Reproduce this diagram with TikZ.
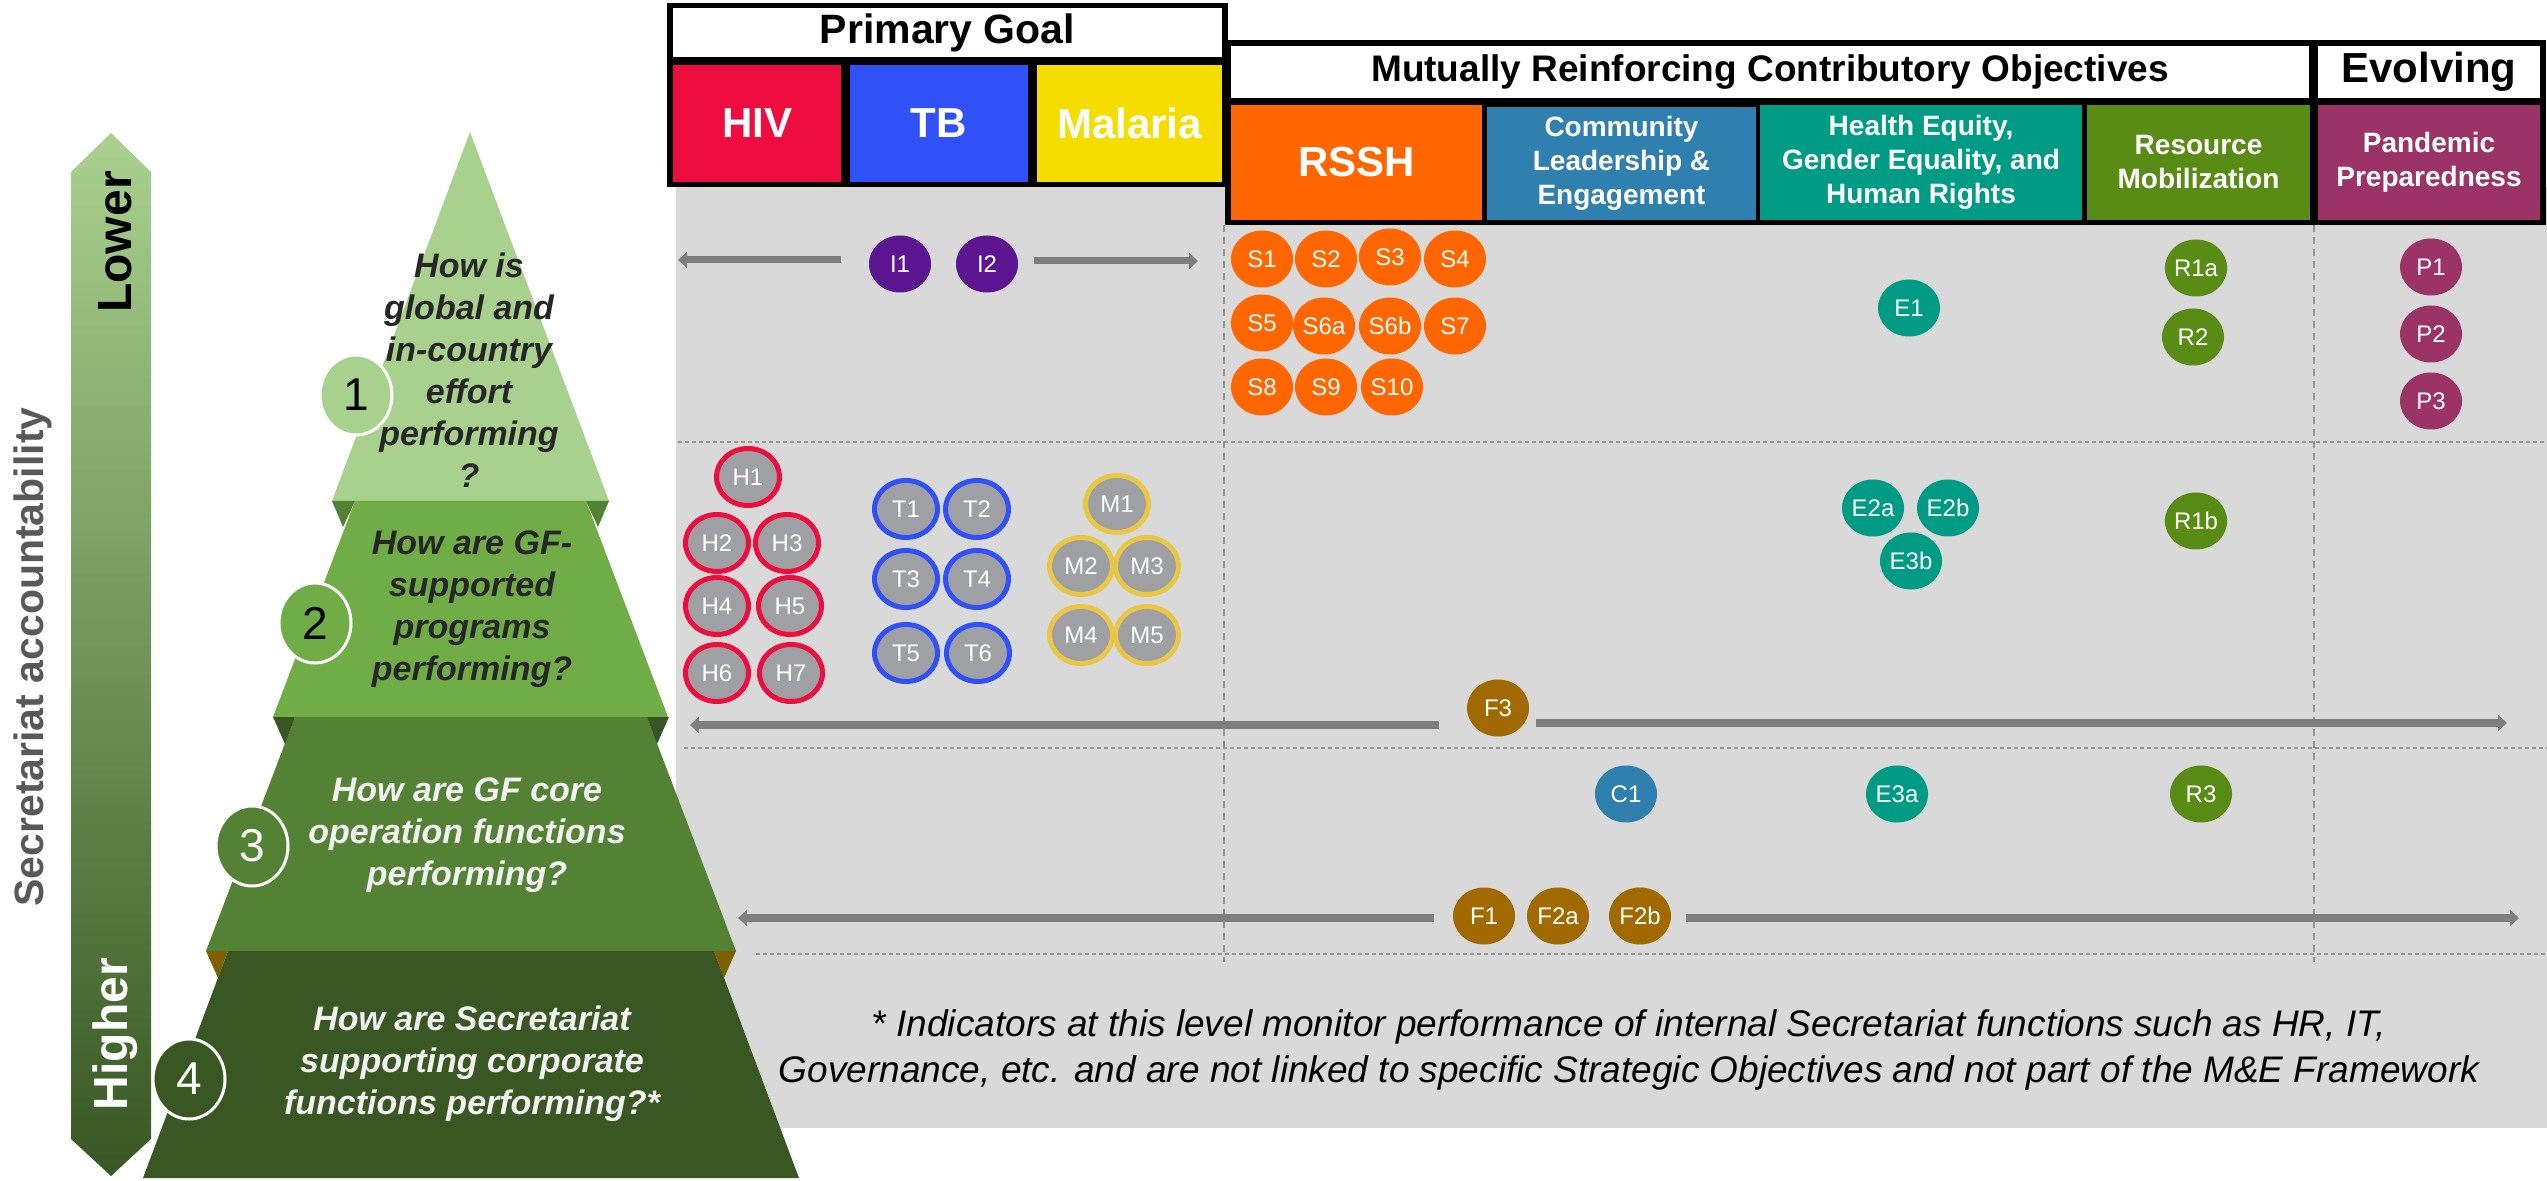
\documentclass[tikz,border=0pt]{standalone}
\usepackage{fontspec}
\setmainfont{Liberation Sans}
\usetikzlibrary{shapes.geometric,arrows.meta}
\definecolor{hivc}{HTML}{EE0D3F}
\definecolor{tbc}{HTML}{3050F8}
\definecolor{malc}{HTML}{F5DD00}
\definecolor{rsshc}{HTML}{FF6600}
\definecolor{commc}{HTML}{2F80AE}
\definecolor{eqc}{HTML}{009B85}
\definecolor{resc}{HTML}{588C14}
\definecolor{panc}{HTML}{9B3366}
\definecolor{purc}{HTML}{5B1590}
\definecolor{fc}{HTML}{A06A00}
\definecolor{bgc}{HTML}{D9D9D9}
\definecolor{circg}{HTML}{9EA0A3}
\definecolor{malb}{HTML}{EAC646}
\definecolor{arrc}{HTML}{7F7F7F}
\definecolor{dashc}{HTML}{959595}
\definecolor{lone}{HTML}{A9D18E}
\definecolor{ltwo}{HTML}{70AD47}
\definecolor{lthree}{HTML}{548235}
\definecolor{lfour}{HTML}{385723}
\definecolor{notchtwo}{HTML}{548235}
\definecolor{notchthree}{HTML}{375623}
\definecolor{notchfour}{HTML}{7F6000}
\definecolor{darktxt}{HTML}{262626}
\definecolor{lighttxt}{HTML}{F2F2F2}
\definecolor{sidetxt}{HTML}{595959}
\tikzset{
 hdr/.style={rectangle, inner sep=0pt, fill=white, text=black, font=\bfseries\fontsize{20.5}{24}\selectfont},
 cat/.style={rectangle, inner sep=0pt, text=white, align=center, font=\bfseries\fontsize{14}{17}\selectfont},
 bigcat/.style={rectangle, inner sep=0pt, text=white, font=\bfseries\fontsize{21}{25}\selectfont},
 ind/.style={ellipse, inner sep=0pt, minimum width=31pt, minimum height=28.5pt, text=white, font=\fontsize{12}{14}\selectfont},
 ring/.style={ind, fill=circg, line width=2.5pt, minimum width=31.5pt},
 garrow/.style={draw=arrc, line width=3.5pt, -{Triangle[length=4.5pt,width=8pt]}},
 garrowb/.style={garrow, line width=4pt},
 hdot/.style={draw=dashc, line width=1pt, dash pattern=on 2pt off 1.5pt},
 vdash/.style={draw=dashc, line width=0.8pt, dash pattern=on 3.5pt off 2.5pt},
 pyr/.style={align=center, inner sep=0pt, font=\bfseries\itshape\fontsize{17}{21}\selectfont},
 numc/.style={ellipse, minimum width=36pt, minimum height=40pt, inner sep=0pt, draw=white, line width=1.5pt, font=\fontsize{23}{26}\selectfont},
}
\begin{document}
\begin{tikzpicture}[x=0.5pt,y=-0.5pt]
\useasboundingbox (0,0) rectangle (2547,1181);
\fill[white] (0,0) rectangle (2547,1181);
% gray body
\fill[bgc] (676,187) rectangle (2547,1128);
% dashed grid
\draw[hdot] (678,442) -- (2547,442);
\draw[hdot] (684,748) -- (2547,748);
\draw[hdot] (756,954) -- (2547,954);
\draw[vdash] (1224,225) -- (1224,962);
\draw[vdash] (2314,225) -- (2314,962);
% arrows
\coordinate (aIls) at (841,260); \coordinate (aIle) at (678,260);
\coordinate (aIrs) at (1034,261); \coordinate (aIre) at (1198,261);
\coordinate (aFls) at (1439,725); \coordinate (aFle) at (690,725);
\coordinate (aFrs) at (1536,723); \coordinate (aFre) at (2507,723);
\coordinate (aGls) at (1434,918); \coordinate (aGle) at (738,918);
\coordinate (aGrs) at (1686,918); \coordinate (aGre) at (2519,918);
\draw[garrow] (aIls) -- (aIle);
\draw[garrow] (aIrs) -- (aIre);
\draw[garrowb] (aFls) -- (aFle);
\draw[garrowb] (aFrs) -- (aFre);
\draw[garrowb] (aGls) -- (aGle);
\draw[garrowb] (aGrs) -- (aGre);
% indicator circles
\node[ind, fill=purc] (I1) at (900,264) {I1};
\node[ind, fill=purc] (I2) at (987,264) {I2};
\node[ind, fill=rsshc] (S1) at (1262,259) {S1};
\node[ind, fill=rsshc] (S2) at (1326,259) {S2};
\node[ind, fill=rsshc] (S3) at (1390,257) {S3};
\node[ind, fill=rsshc] (S4) at (1455,259) {S4};
\node[ind, fill=rsshc] (S5) at (1262,323) {S5};
\node[ind, fill=rsshc] (S6a) at (1324,326) {S6a};
\node[ind, fill=rsshc] (S6b) at (1390,326) {S6b};
\node[ind, fill=rsshc] (S7) at (1455,326) {S7};
\node[ind, fill=rsshc] (S8) at (1262,387) {S8};
\node[ind, fill=rsshc] (S9) at (1326,387) {S9};
\node[ind, fill=rsshc] (S10) at (1392,387) {S10};
\node[ind, fill=eqc] (E1) at (1909,308) {E1};
\node[ind, fill=resc] (R1a) at (2196,268) {R1a};
\node[ind, fill=resc] (R2) at (2193,337) {R2};
\node[ind, fill=panc] (P1) at (2431,267) {P1};
\node[ind, fill=panc] (P2) at (2431,334) {P2};
\node[ind, fill=panc] (P3) at (2431,401) {P3};
\node[ind, fill=eqc] (E2a) at (1873,508) {E2a};
\node[ind, fill=eqc] (E2b) at (1948,508) {E2b};
\node[ind, fill=eqc] (E3b) at (1911,561) {E3b};
\node[ind, fill=resc] (R1b) at (2196,521) {R1b};
\node[ind, fill=fc] (F3) at (1498,708) {F3};
\node[ind, fill=commc] (C1) at (1626,794) {C1};
\node[ind, fill=eqc] (E3a) at (1897,794) {E3a};
\node[ind, fill=resc] (R3) at (2201,794) {R3};
\node[ind, fill=fc] (F1) at (1484,916) {F1};
\node[ind, fill=fc] (F2a) at (1558,916) {F2a};
\node[ind, fill=fc] (F2b) at (1640,916) {F2b};
% ringed circles
\node[ring, draw=hivc] (H1) at (748,477) {H1};
\node[ring, draw=hivc] (H2) at (717,543) {H2};
\node[ring, draw=hivc] (H3) at (787,543) {H3};
\node[ring, draw=hivc] (H4) at (717,606) {H4};
\node[ring, draw=hivc] (H5) at (790,606) {H5};
\node[ring, draw=hivc] (H6) at (717,673) {H6};
\node[ring, draw=hivc] (H7) at (791,673) {H7};
\node[ring, draw=tbc] (T1) at (906,509) {T1};
\node[ring, draw=tbc] (T2) at (977,509) {T2};
\node[ring, draw=tbc] (T3) at (906,579) {T3};
\node[ring, draw=tbc] (T4) at (977,579) {T4};
\node[ring, draw=tbc] (T5) at (906,653) {T5};
\node[ring, draw=tbc] (T6) at (978,653) {T6};
\node[ring, draw=malb] (M1) at (1117,504) {M1};
\node[ring, draw=malb] (M2) at (1081,566) {M2};
\node[ring, draw=malb] (M3) at (1147,566) {M3};
\node[ring, draw=malb] (M4) at (1081,635) {M4};
\node[ring, draw=malb] (M5) at (1147,635) {M5};
% footnote
\node[align=center, inner sep=0pt, font=\itshape\fontsize{18.5}{23}\selectfont] (foot) at (1629,1050) {* Indicators at this level monitor performance of internal Secretariat functions such as HR, IT,\\Governance, etc. and are not linked to specific Strategic Objectives and not part of the M\&E Framework};
% header: primary goal
\fill[black] (667,3) rectangle (1228,187);
\node[hdr, minimum width=274.5pt, minimum height=24.5pt] (pg) at (947.5,32.5) {Primary Goal};
\node[bigcat, fill=hivc, minimum width=84pt, minimum height=58.5pt] (hiv) at (757,123.5) {HIV};
\node[bigcat, fill=tbc, minimum width=89pt, minimum height=58.5pt] (tb) at (938.5,123.5) {TB};
\node[bigcat, fill=malc, minimum width=92.5pt, minimum height=58.5pt] (mal) at (1129.5,123.5) {Malaria};
% header: objectives
\fill[black] (1225,40) rectangle (2546,225);
\node[hdr, font=\bfseries\fontsize{18.5}{22}\selectfont, minimum width=539pt, minimum height=26pt] (mrc) at (1770,72) {Mutually Reinforcing Contributory Objectives};
\node[hdr, font=\bfseries\fontsize{21}{25}\selectfont, minimum width=111pt, minimum height=26pt] (evo) at (2429,72) {Evolving};
\node[bigcat, fill=rsshc, minimum width=125.5pt, minimum height=57.5pt] (rssh) at (1356.5,162.5) {RSSH};
\node[cat, fill=commc, minimum width=134.5pt, minimum height=56.5pt] (comm) at (1621.5,163.5) {Community\\Leadership \&\\Engagement};
\node[cat, fill=eqc, minimum width=161pt, minimum height=57.5pt] (equ) at (1921,162.5) {Health Equity,\\Gender Equality, and\\Human Rights};
\node[cat, fill=resc, minimum width=111.5pt, minimum height=57.5pt] (res) at (2198.5,162.5) {Resource\\Mobilization};
\node[cat, fill=panc, minimum width=111pt, minimum height=57.5pt] (pan) at (2429,162.5) {Pandemic\\Preparedness};
% pyramid
\fill[lone] (470,132) -- (609,501) -- (332,501) -- cycle;
\fill[ltwo] (355,501) -- (586,501) -- (668,717) -- (273,717) -- cycle;
\fill[notchtwo] (332,501) -- (355,501) -- (343,527) -- cycle;
\fill[notchtwo] (609,501) -- (586,501) -- (598,527) -- cycle;
\fill[lthree] (295,717) -- (647,717) -- (736,951) -- (206,951) -- cycle;
\fill[notchthree] (273,717) -- (295,717) -- (285,744) -- cycle;
\fill[notchthree] (669,717) -- (647,717) -- (657,744) -- cycle;
\fill[lfour] (228,951) -- (714,951) -- (799,1178) -- (143,1178) -- cycle;
\fill[notchfour] (206,951) -- (228,951) -- (218,978) -- cycle;
\fill[notchfour] (736,951) -- (714,951) -- (724,978) -- cycle;
\node[pyr, text=darktxt] (q1) at (469,370) {How is\\global and\\in-country\\effort\\performing\\?};
\node[pyr, text=darktxt] (q2) at (472,609) {How are GF-\\supported\\programs\\performing?};
\node[pyr, text=lighttxt] (q3) at (467,835) {How are GF core\\operation functions\\performing?};
\node[pyr, text=lighttxt] (q4) at (472,1064) {How are Secretariat\\supporting corporate\\functions performing?*};
\node[numc, fill=lone, text=black] (n1) at (356,395) {1};
\node[numc, fill=ltwo, text=black] (n2) at (315,623) {2};
\node[numc, fill=lthree, text=white] (n3) at (252,846) {3};
\node[numc, fill=lfour, text=white] (n4) at (189,1079) {4};
% accountability arrow
\shade[top color=lone, bottom color=lfour] (71,172) -- (111,133) -- (151,172) -- (151,1139) -- (111,1176) -- (71,1139) -- cycle;
\node[rotate=90, inner sep=0pt, text=black, font=\bfseries\fontsize{24}{28}\selectfont] (lower) at (115,242) {Lower};
\node[rotate=90, inner sep=0pt, text=white, font=\bfseries\fontsize{24}{28}\selectfont] (higher) at (115,1034) {Higher};
\node[rotate=90, inner sep=0pt, text=sidetxt, font=\bfseries\fontsize{20.5}{25}\selectfont] (acc) at (33,657) {Secretariat accountability};
\end{tikzpicture}
\end{document}
